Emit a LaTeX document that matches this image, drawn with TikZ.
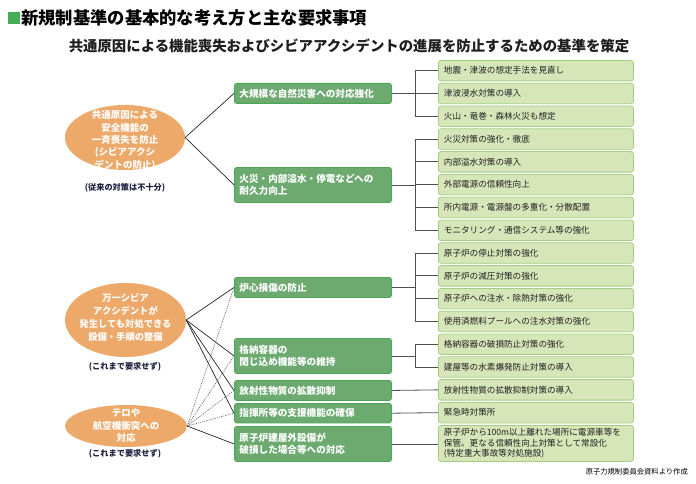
\documentclass[tikz,border=0pt]{standalone}
\usepackage{fontspec}
\setmainfont{Noto Sans CJK JP}
\usetikzlibrary{shapes.geometric}
\definecolor{orng}{HTML}{EDA96A}
\definecolor{mgreen}{HTML}{6CAA70}
\definecolor{mgreenB}{HTML}{49A653}
\definecolor{rgreen}{HTML}{D7E6B9}
\definecolor{rgreenB}{HTML}{A2CF82}
\definecolor{tgreen}{HTML}{45AD55}
\definecolor{navy}{HTML}{1F2240}
\definecolor{treec}{HTML}{505050}
\begin{document}
\begin{tikzpicture}[x=1pt,y=-1pt,
  mbox/.style={draw=mgreenB, fill=mgreen, rounded corners=2.5pt, line width=0.9pt, anchor=north west,
    text width=147pt, inner xsep=5pt, inner ysep=0pt, align=left, text=white, minimum height=20pt,
    font=\bfseries\fontsize{9.6}{12}\selectfont},
  rbox/.style={draw=rgreenB, fill=rgreen, rounded corners=2.5pt, line width=0.8pt, anchor=north west,
    text width=184pt, inner xsep=5.5pt, inner ysep=0pt, align=left, minimum height=20.5pt, text=black!88,
    font=\fontsize{8.6}{10.6}\selectfont},
  oval/.style={ellipse, fill=orng, inner sep=0pt},
  ovaltext/.style={align=center, text=white, inner sep=0pt},
  caption/.style={text=navy, font=\bfseries\fontsize{8.2}{10}\selectfont, inner sep=0pt},
  tree/.style={draw=treec, line width=0.8pt},
  link/.style={draw=black!85, line width=0.7pt},
  dlink/.style={draw=black!60, line width=0.6pt, dash pattern=on 1.2pt off 1pt}
]
\useasboundingbox (0,0) rectangle (696,484);
\fill[white] (0,0) rectangle (696,484);

% title
\node[fill=tgreen, minimum size=12pt, inner sep=0pt] (sq) at (14,18) {};
\node[anchor=west, inner sep=0pt, font=\bfseries\fontsize{17.3}{20}\selectfont] (title) at (21,18) {新規制基準の基本的な考え方と主な要求事項};
\node[inner sep=0pt, font=\bfseries\fontsize{14.4}{16}\selectfont, text=black!88] (sub) at (349,46) {共通原因による機能喪失およびシビアアクシデントの進展を防止するための基準を策定};

% ellipses
\node[oval, minimum width=120pt, minimum height=65pt] (e1) at (125,137.5) {};
\node[ovaltext, font=\bfseries\fontsize{9.5}{12.3}\selectfont] (e1t) at (125,140.5) {共通原因による\\安全機能の\\一斉喪失を防止\\(シビアアクシ\\デントの防止)};
\node[caption] (c1) at (125,188) {(従来の対策は不十分)};

\node[oval, minimum width=121pt, minimum height=74pt] (e2) at (125.5,320) {};
\node[ovaltext, font=\bfseries\fontsize{9.3}{13}\selectfont] (e2t) at (125.5,317.5) {万一シビア\\アクシデントが\\発生しても対処できる\\設備・手順の整備};
\node[caption] (c2) at (125,367) {(これまで要求せず)};

\node[oval, minimum width=122pt, minimum height=42pt] (e3) at (126,426) {};
\node[ovaltext, font=\bfseries\fontsize{9.5}{12.5}\selectfont] (e3t) at (126,425.5) {テロや\\航空機衝突への\\対応};
\node[caption] (c3) at (125,454) {(これまで要求せず)};

% middle boxes
\node[mbox] (m1) at (234,83) {大規模な自然災害への対応強化};
\node[mbox, minimum height=35pt] (m2) at (234,167) {火災・内部溢水・停電などへの\\耐久力向上};
\node[mbox] (m3) at (234,277) {炉心損傷の防止};
\node[mbox, minimum height=35pt] (m4) at (234,338) {格納容器の\\閉じ込め機能等の維持};
\node[mbox] (m5) at (234,380) {放射性物質の拡散抑制};
\node[mbox, minimum height=19.5pt] (m6) at (234,403) {指揮所等の支援機能の確保};
\node[mbox, minimum height=35pt] (m7) at (234,426) {原子炉建屋外設備が\\破損した場合等への対応};

% right boxes
\node[rbox] (r1) at (438,60) {地震・津波の想定手法を見直し};
\node[rbox] (r2) at (438,82.8) {津波浸水対策の導入};
\node[rbox] (r3) at (438,105.6) {火山・竜巻・森林火災も想定};
\node[rbox] (r4) at (438,128.4) {火災対策の強化・徹底};
\node[rbox] (r5) at (438,151.2) {内部溢水対策の導入};
\node[rbox] (r6) at (438,174) {外部電源の信頼性向上};
\node[rbox] (r7) at (438,196.8) {所内電源・電源盤の多重化・分散配置};
\node[rbox] (r8) at (438,219.6) {モニタリング・通信システム等の強化};
\node[rbox] (r9) at (438,242.4) {原子炉の停止対策の強化};
\node[rbox] (r10) at (438,265.2) {原子炉の減圧対策の強化};
\node[rbox] (r11) at (438,288) {原子炉への注水・除熱対策の強化};
\node[rbox] (r12) at (438,310.8) {使用済燃料プールへの注水対策の強化};
\node[rbox] (r13) at (438,333.6) {格納容器の破損防止対策の強化};
\node[rbox] (r14) at (438,356.4) {建屋等の水素爆発防止対策の導入};
\node[rbox] (r15) at (438,379.2) {放射性物質の拡散抑制対策の導入};
\node[rbox] (r16) at (438,402) {緊急時対策所};
\node[rbox, minimum height=36pt] (r17) at (438,425) {原子炉から100m以上離れた場所に電源車等を\\保管。更なる信頼性向上対策として常設化\\(特定重大事故等対処施設)};

% tree connectors
\foreach \r in {r1,r2,r3} \draw[tree] (\r.west) -- ++(-23,0) |- (m1.east);
\foreach \r in {r4,r5,r6,r7,r8} \draw[tree] (\r.west) -- ++(-23,0) |- (m2.east);
\foreach \r in {r9,r10,r11,r12} \draw[tree] (\r.west) -- ++(-23,0) |- (m3.east);
\foreach \r in {r13,r14} \draw[tree] (\r.west) -- ++(-23,0) |- (m4.east);
\draw[tree] (m5.east) -- (r15.west);
\draw[tree] (m6.east) -- (r16.west);
\draw[tree] (m7.east) -- (m7.east -| r17.west);

% ellipse connectors
\draw[link] (e1.east) -- (m1.west);
\draw[link] (e1.east) -- (m2.west);
\foreach \m in {m3,m4,m5,m6} \draw[link] (e2.east) -- (\m.west);
\foreach \m in {m3,m4,m5,m6} \draw[dlink] (e3.east) -- (\m.west);
\draw[link] (e3.east) -- (m7.west);

% source
\node[anchor=east, inner sep=0pt, font=\fontsize{7.3}{9}\selectfont] (src) at (688,472) {原子力規制委員会資料より作成};
\end{tikzpicture}
\end{document}
